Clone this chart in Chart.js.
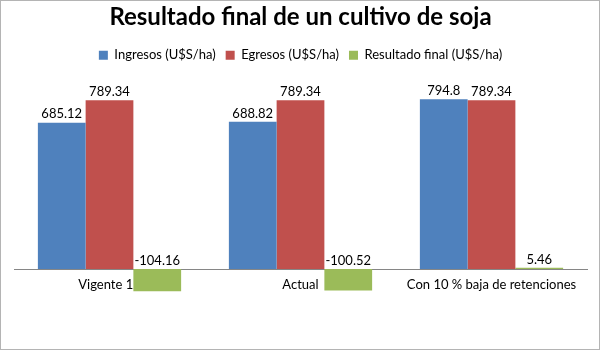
<!DOCTYPE html>
<html>
<head>
<meta charset="utf-8">
<script src="https://cdn.jsdelivr.net/npm/chart.js@4/dist/chart.umd.min.js"></script>
<style>
  html, body { margin: 0; padding: 0; background: #fff; }
  #wrap { width: 600px; height: 350px; box-sizing: border-box; border: 1px solid #b4b4b4; }
</style>
</head>
<body>
<div id="wrap"><canvas id="myChart" width="598" height="348"></canvas></div>
<script>
const categories = ['Vigente 12', 'Actual', 'Con 10 % baja de retenciones'];
const ingresos = [685.12, 688.82, 794.8];
const egresos = [789.34, 789.34, 789.34];
const resultado = [-104.16, -100.52, 5.46];

// labels above each bar (for negative bars, above the zero line)
const barLabels = {
    id: 'barLabels',
    afterDatasetsDraw(chart) {
        const ctx = chart.ctx;
        ctx.save();
        ctx.font = '13px Lato';
        ctx.fillStyle = '#000';
        ctx.textAlign = 'center';
        ctx.textBaseline = 'bottom';
        chart.data.datasets.forEach((ds, i) => {
            chart.getDatasetMeta(i).data.forEach((bar, j) => {
                const y = Math.min(bar.y, bar.base) - 2;
                ctx.fillText(String(ds.data[j]), bar.x, y);
            });
        });
        ctx.restore();
    }
};

new Chart(document.getElementById('myChart'), {
    type: 'bar',
    data: {
        labels: categories,
        datasets: [
            { label: 'Ingresos (U$S/ha)', data: ingresos, backgroundColor: '#4F81BD' },
            { label: 'Egresos (U$S/ha)', data: egresos, backgroundColor: '#C0504D' },
            { label: 'Resultado final (U$S/ha)', data: resultado, backgroundColor: '#9BBB59' }
        ]
    },
    options: {
        responsive: false,
        animation: false,
        layout: { padding: { left: 13, right: 12, bottom: 27, top: 1 } },
        datasets: { bar: { categoryPercentage: 0.75, barPercentage: 1.0 } },
        scales: {
            x: {
                position: { y: 0 },
                grid: { display: false, drawTicks: false },
                border: { display: true, color: '#868686', width: 1 },
                ticks: { color: '#000', font: { family: 'Lato', size: 13 }, padding: 8 }
            },
            y: {
                display: false,
                min: -248,
                max: 923
            }
        },
        plugins: {
            title: {
                display: true,
                text: 'Resultado final de un cultivo de soja',
                color: '#000',
                font: { family: 'Lato', size: 24, weight: 'bold' },
                padding: { top: 1, bottom: 7 }
            },
            legend: {
                position: 'top',
                labels: {
                    color: '#000',
                    font: { family: 'Lato', size: 13 },
                    boxWidth: 9,
                    boxHeight: 9,
                    padding: 10
                }
            },
            tooltip: { enabled: false }
        }
    },
    plugins: [barLabels]
});
</script>
</body>
</html>
